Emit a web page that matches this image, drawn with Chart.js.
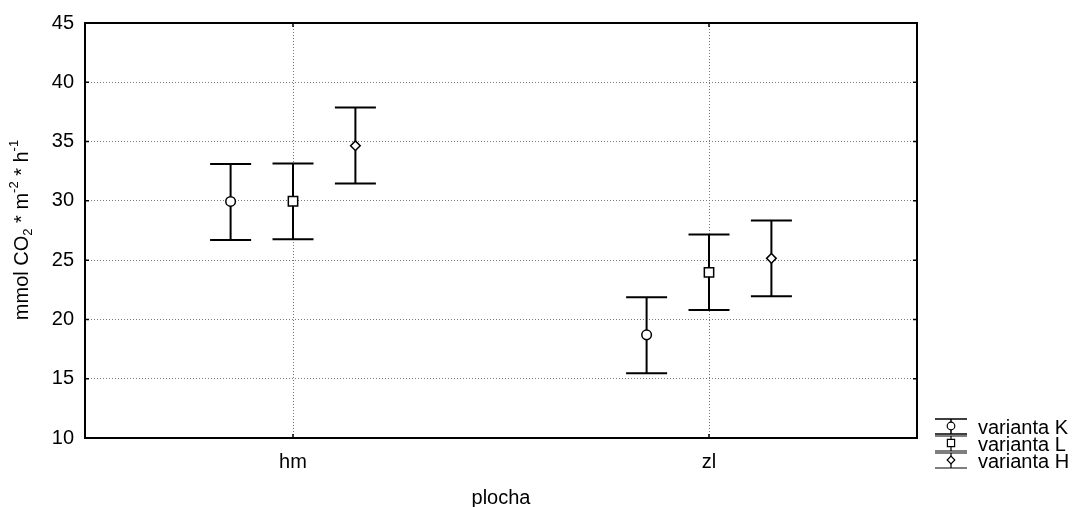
<!DOCTYPE html>
<html>
<head>
<meta charset="utf-8">
<script src="https://cdn.jsdelivr.net/npm/chart.js@4.4.1/dist/chart.umd.min.js"></script>
<style>
  html, body { margin: 0; padding: 0; background: #fff; }
  #wrap { width: 1073px; height: 507px; position: relative; }
</style>
</head>
<body>
<div id="wrap"><canvas id="c"></canvas></div>
<script>
// ---- Data ----
const categories = ['hm', 'zl'];
const seriesNames = ['varianta K', 'varianta L', 'varianta H'];
const meanK  = [29.95, 18.70];
const upperK = [33.10, 21.86];
const lowerK = [26.70, 15.47];
const meanL  = [29.97, 23.97];
const upperL = [33.15, 27.16];
const lowerL = [26.77, 20.79];
const meanH  = [34.65, 25.15];
const upperH = [37.87, 28.34];
const lowerH = [31.47, 21.95];
const yTicks = [10, 15, 20, 25, 30, 35, 40, 45];

// ---- Style ----
const FONT = 'Liberation Sans, Arial, sans-serif';
const FS = 20;
const seriesOffset = [-0.15, 0, 0.15];
const pointStyles = ['circle', 'rect', 'rectRot'];
const pointRadii = [4.8, 6.6, 4.8];
const means = [meanK, meanL, meanH];
const uppers = [upperK, upperL, upperH];
const lowers = [lowerK, lowerL, lowerH];

const datasets = seriesNames.map((name, s) => ({
  label: name,
  data: categories.map((c, i) => ({ x: i + 0.5 + seriesOffset[s], y: means[s][i], hi: uppers[s][i], lo: lowers[s][i] })),
  pointStyle: pointStyles[s],
  pointRadius: pointRadii[s],
  pointHoverRadius: pointRadii[s],
  backgroundColor: '#ffffff',
  borderColor: '#000000',
  borderWidth: 1.5,
  showLine: false
}));

const errorBars = {
  id: 'errorBars',
  beforeDatasetsDraw(chart) {
    const ctx = chart.ctx, xs = chart.scales.x, ys = chart.scales.y;
    ctx.save();
    ctx.strokeStyle = '#000';
    ctx.lineWidth = 2;
    chart.data.datasets.forEach(ds => {
      ds.data.forEach(p => {
        const x = xs.getPixelForValue(p.x);
        const yh = ys.getPixelForValue(p.hi);
        const yl = ys.getPixelForValue(p.lo);
        ctx.beginPath();
        ctx.moveTo(x, yh); ctx.lineTo(x, yl);
        ctx.moveTo(x - 20.5, yh); ctx.lineTo(x + 20.5, yh);
        ctx.moveTo(x - 20.5, yl); ctx.lineTo(x + 20.5, yl);
        ctx.stroke();
      });
    });
    ctx.restore();
  }
};

function drawMarker(ctx, style, x, y, r) {
  ctx.beginPath();
  if (style === 'circle') ctx.arc(x, y, r, 0, Math.PI * 2);
  else if (style === 'rect') ctx.rect(x - r, y - r, 2 * r, 2 * r);
  else { ctx.moveTo(x - r, y); ctx.lineTo(x, y - r); ctx.lineTo(x + r, y); ctx.lineTo(x, y + r); ctx.closePath(); }
  ctx.fillStyle = '#fff'; ctx.fill();
  ctx.lineWidth = 1.2; ctx.strokeStyle = '#000'; ctx.stroke();
}

const decorations = {
  id: 'decorations',
  afterDraw(chart) {
    const ctx = chart.ctx, a = chart.chartArea, xs = chart.scales.x, ys = chart.scales.y;
    ctx.save();
    // frame
    ctx.strokeStyle = '#000';
    ctx.lineWidth = 2;
    ctx.strokeRect(a.left, a.top, a.right - a.left, a.bottom - a.top);
    // inward ticks
    ctx.lineWidth = 1.5;
    ctx.beginPath();
    yTicks.forEach(v => {
      const y = ys.getPixelForValue(v);
      ctx.moveTo(a.left, y); ctx.lineTo(a.left + 4, y);
      ctx.moveTo(a.right, y); ctx.lineTo(a.right - 4, y);
    });
    categories.forEach((c, i) => {
      const x = xs.getPixelForValue(i + 0.5);
      ctx.moveTo(x, a.bottom); ctx.lineTo(x, a.bottom - 4);
      ctx.moveTo(x, a.top); ctx.lineTo(x, a.top + 4);
    });
    ctx.stroke();

    // x title
    ctx.fillStyle = '#000';
    ctx.font = FS + 'px ' + FONT;
    ctx.textAlign = 'center';
    ctx.textBaseline = 'middle';
    ctx.fillText('plocha', (a.left + a.right) / 2, 498);

    // y title with sub/superscripts
    const parts = [
      { t: 'mmol CO', f: FS, dy: 0 },
      { t: '2', f: 13, dy: 6 },
      { t: ' * m', f: FS, dy: 0 },
      { t: '-2', f: 13, dy: -8 },
      { t: ' * h', f: FS, dy: 0 },
      { t: '-1', f: 13, dy: -8 }
    ];
    let total = 0;
    parts.forEach(p => { ctx.font = p.f + 'px ' + FONT; p.w = ctx.measureText(p.t).width; total += p.w; });
    ctx.translate(22, 230);
    ctx.rotate(-Math.PI / 2);
    ctx.textAlign = 'left';
    ctx.textBaseline = 'middle';
    let xx = -total / 2;
    parts.forEach(p => {
      ctx.font = p.f + 'px ' + FONT;
      ctx.fillText(p.t, xx, p.dy);
      xx += p.w;
    });
    ctx.setTransform(1, 0, 0, 1, 0, 0);

    // legend
    const rowY = [428, 445, 462];
    const iconX = 951;
    ctx.strokeStyle = '#000';
    ctx.lineWidth = 1.5;
    seriesNames.forEach((name, s) => {
      const cy = rowY[s];
      ctx.beginPath();
      ctx.moveTo(iconX, cy - 9); ctx.lineTo(iconX, cy + 6);
      ctx.moveTo(iconX - 16, cy - 9); ctx.lineTo(iconX + 16, cy - 9);
      ctx.moveTo(iconX - 16, cy + 6); ctx.lineTo(iconX + 16, cy + 6);
      ctx.stroke();
      drawMarker(ctx, pointStyles[s], iconX, cy - 2, s === 1 ? 3.6 : 3.8);
      ctx.fillStyle = '#000';
      ctx.font = FS + 'px ' + FONT;
      ctx.textAlign = 'left';
      ctx.textBaseline = 'middle';
      ctx.fillText(name, 978, cy);
    });
    ctx.restore();
  }
};

new Chart(document.getElementById('c'), {
  type: 'scatter',
  data: { datasets },
  plugins: [errorBars, decorations],
  options: {
    responsive: true,
    maintainAspectRatio: false,
    animation: false,
    events: [],
    layout: { padding: { left: 0, top: 22, right: 156, bottom: 0 } },
    plugins: { legend: { display: false }, tooltip: { enabled: false } },
    scales: {
      x: {
        type: 'linear',
        min: 0, max: categories.length,
        afterBuildTicks: s => { s.ticks = categories.map((c, i) => ({ value: i + 0.5 })); },
        afterFit: s => { s.height = 69; },
        ticks: {
          callback: (v) => categories[Math.round(v - 0.5)],
          font: { family: FONT, size: FS },
          color: '#000',
          padding: 12,
          autoSkip: false,
          maxRotation: 0
        },
        grid: { color: '#777', lineWidth: 1, drawTicks: false },
        border: { display: false, dash: [1, 2] }
      },
      y: {
        type: 'linear',
        min: 10, max: 45,
        afterBuildTicks: s => { s.ticks = yTicks.map(v => ({ value: v })); },
        afterFit: s => { s.width = 85; },
        ticks: {
          font: { family: FONT, size: FS },
          color: '#000',
          padding: 11
        },
        grid: { color: '#777', lineWidth: 1, drawTicks: false },
        border: { display: false, dash: [1, 2] }
      }
    }
  }
});
</script>
</body>
</html>
